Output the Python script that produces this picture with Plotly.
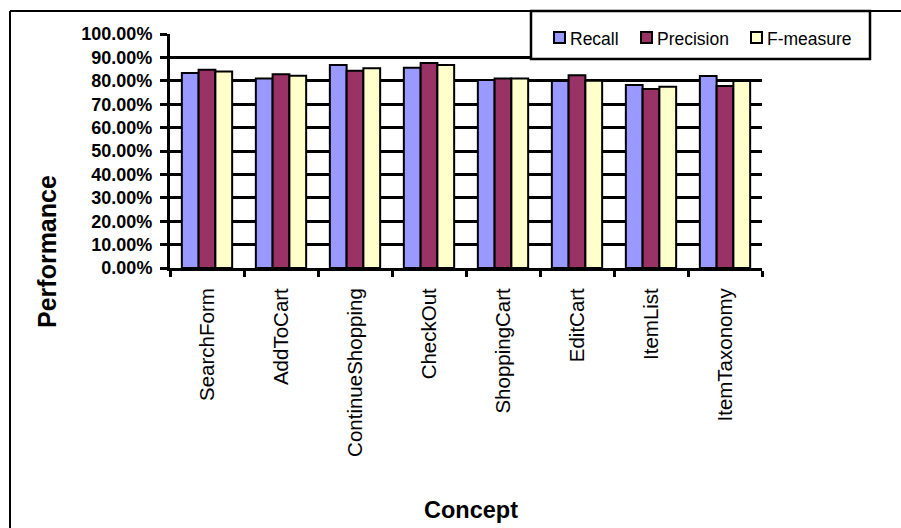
import plotly.graph_objects as go

# Concepts and per-concept scores (fractions)
concepts = ["SearchForm", "AddToCart", "ContinueShopping", "CheckOut",
            "ShoppingCart", "EditCart", "ItemList", "ItemTaxonomy"]
recall = [0.833, 0.810, 0.868, 0.856, 0.803, 0.799, 0.782, 0.821]
precision = [0.847, 0.828, 0.843, 0.876, 0.810, 0.824, 0.765, 0.778]
f_measure = [0.840, 0.822, 0.854, 0.868, 0.810, 0.800, 0.775, 0.799]

series_names = ["Recall", "Precision", "F-measure"]
series_values = [recall, precision, f_measure]
series_colors = ["#9999FF", "#993366", "#FFFFCC"]

W, H = 901, 528
FONT = "Liberation Sans, Arial, sans-serif"


def px(x):
    return x / W


def py(y):
    return 1 - y / H


fig = go.Figure()
for name, vals, col in zip(series_names, series_values, series_colors):
    fig.add_trace(go.Bar(
        x=concepts, y=vals, name=name,
        marker=dict(color=col, line=dict(color="black", width=2)),
        showlegend=False,
    ))

fig.update_layout(
    template="none",
    width=W, height=H, autosize=False,
    margin=dict(l=0, r=0, t=0, b=0, pad=0),
    paper_bgcolor="white", plot_bgcolor="white",
    barmode="group", bargap=0.32, bargroupgap=0,
    xaxis=dict(
        domain=[px(170), px(762)],
        automargin=False,
        type="category",
        tickson="boundaries",
        ticks="outside", ticklen=6, tickwidth=2.5, tickcolor="black",
        showline=True, linewidth=3, linecolor="black",
        showgrid=False,
        tickangle=-90,
        tickfont=dict(family=FONT, size=20.5, color="black"),
        ticklabelstandoff=9,
    ),
    yaxis=dict(
        domain=[py(268), py(34)],
        automargin=False,
        range=[0, 1], dtick=0.1, tickformat=".2%",
        showgrid=True, gridcolor="black", gridwidth=2.5,
        showline=True, linewidth=3, linecolor="black",
        zeroline=False,
        ticks="outside", ticklen=7, tickwidth=2.5, tickcolor="black",
        tickfont=dict(family=FONT, size=18, color="black", weight="bold"),
        ticklabelstandoff=4,
    ),
)

shapes = []
annotations = []

# chart frame edges
shapes.append(dict(type="line", xref="paper", yref="paper",
                   x0=px(10), x1=px(901), y0=py(11), y1=py(11),
                   line=dict(color="black", width=2)))
shapes.append(dict(type="line", xref="paper", yref="paper",
                   x0=px(10), x1=px(10), y0=py(11), y1=py(528),
                   line=dict(color="black", width=2)))

# legend box
shapes.append(dict(type="rect", xref="paper", yref="paper",
                   x0=px(531), x1=px(870), y0=py(59), y1=py(11),
                   fillcolor="white", line=dict(color="black", width=2.5),
                   layer="above"))
swatch_x = [554, 641, 751]
for name, col, sx in zip(series_names, series_colors, swatch_x):
    shapes.append(dict(type="rect", xref="paper", yref="paper",
                       x0=px(sx), x1=px(sx + 11), y0=py(43), y1=py(32),
                       fillcolor=col, line=dict(color="black", width=2),
                       layer="above"))
    annotations.append(dict(text=name, xref="paper", yref="paper",
                            x=px(sx + 14), y=py(39), xanchor="left",
                            yanchor="middle", showarrow=False,
                            font=dict(family=FONT, size=17.5, color="black")))

# axis titles
annotations.append(dict(text="<b>Performance</b>", xref="paper", yref="paper",
                        x=px(47), y=py(252), textangle=-90,
                        xanchor="center", yanchor="middle", showarrow=False,
                        font=dict(family=FONT, size=25, color="black")))
annotations.append(dict(text="<b>Concept</b>", xref="paper", yref="paper",
                        x=px(471), y=py(510), xanchor="center",
                        yanchor="middle", showarrow=False,
                        font=dict(family=FONT, size=23.5, color="black")))

fig.update_layout(shapes=shapes, annotations=annotations)

fig.write_html("out.html")
